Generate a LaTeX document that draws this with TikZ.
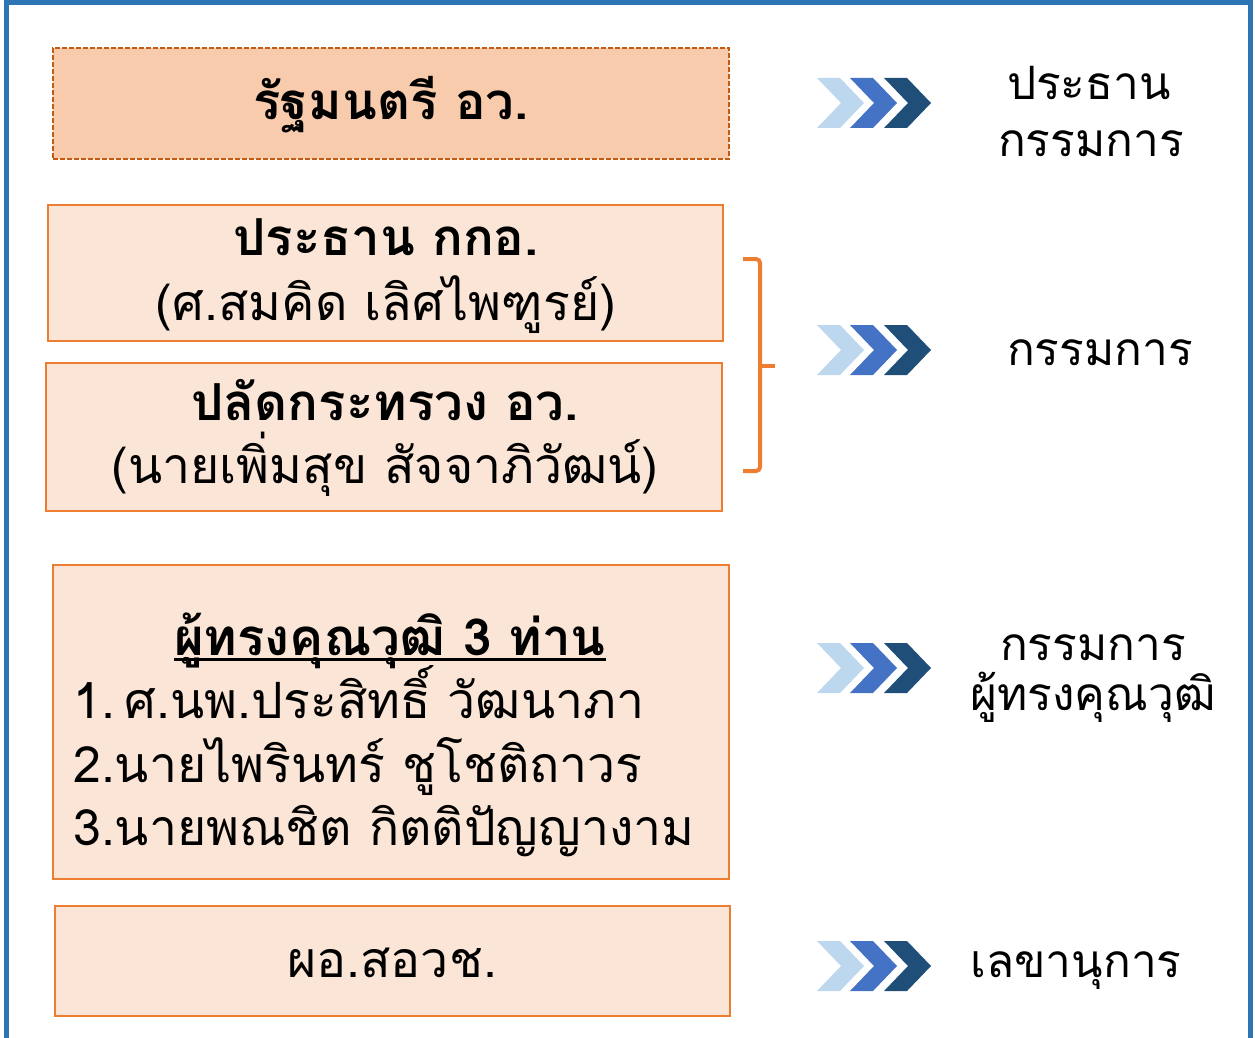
\documentclass[tikz,border=0pt]{standalone}
\usepackage{fontspec}
\setmainfont[Script=Thai]{Loma}
\definecolor{outerblue}{HTML}{2E75B6}
\definecolor{topfill}{HTML}{F8CBAD}
\definecolor{topline}{HTML}{C55A11}
\definecolor{boxfill}{HTML}{FBE5D6}
\definecolor{boxline}{HTML}{ED7D31}
\definecolor{chevA}{HTML}{BDD7EE}
\definecolor{chevB}{HTML}{4472C4}
\definecolor{chevC}{HTML}{1F4E79}
\newcommand\thul[1]{\setbox0=\hbox{#1}\rlap{\rule[-6pt]{\wd0}{3pt}}\box0}
\begin{document}
\begin{tikzpicture}[x=1pt,y=-1pt,
  topbox/.style={draw=topline,fill=topfill,line width=1.8pt,dash pattern=on 5pt off 2pt,rectangle,inner sep=0pt},
  orgbox/.style={draw=boxline,fill=boxfill,line width=2.5pt,rectangle,inner sep=0pt},
  boxtext/.style={anchor=base,inner sep=0pt,font=\fontsize{50}{60}\selectfont},
  boldtext/.style={anchor=base,inner sep=0pt,font=\fontsize{51}{60}\selectfont\bfseries},
  roletext/.style={anchor=base,inner sep=0pt,font=\fontsize{46}{55}\selectfont},
  chevs/.pic={
    \fill[chevA] (0,-25) -- (23,-25) -- (47,0) -- (23,25) -- (0,25) -- (24,0) -- cycle;
    \fill[chevB] (33,-25) -- (56,-25) -- (80,0) -- (56,25) -- (33,25) -- (57,0) -- cycle;
    \fill[chevC] (67,-25) -- (90,-25) -- (114,0) -- (90,25) -- (67,25) -- (91,0) -- cycle;
  }]
\useasboundingbox (0,0) rectangle (1255,1038);
% outer frame
\draw[outerblue,line width=5pt] (6.5,1045) -- (6.5,2.5) -- (1250.5,2.5) -- (1250.5,1045);
% boxes
\node[topbox,minimum width=676pt,minimum height=111pt] (b1) at (391,103.5) {};
\node[orgbox,minimum width=675pt,minimum height=136pt] (b2) at (385.5,273) {};
\node[orgbox,minimum width=676pt,minimum height=148pt] (b3) at (384,437) {};
\node[orgbox,minimum width=676pt,minimum height=314pt] (b4) at (391,722) {};
\node[orgbox,minimum width=675pt,minimum height=110pt] (b5) at (392.5,961) {};
% box texts
\node[boldtext] (t1) at (391,120) {รัฐมนตรี อว.};
\node[boldtext] (t2a) at (386,255) {ประธาน กกอ.};
\node[boxtext] (t2b) at (386,320) {(ศ.สมคิด เลิศไพฑูรย์)};
\node[boldtext] (t3a) at (385,420) {ปลัดกระทรวง อว.};
\node[boxtext] (t3b) at (385,483) {(นายเพิ่มสุข สัจจาภิวัฒน์)};
\node[boldtext] (t4h) at (390,655) {\thul{ผู้ทรงคุณวุฒิ 3 ท่าน}};
\node[boxtext,anchor=base west] (t4a) at (73,718) {1.\hspace{10pt}ศ.นพ.ประสิทธิ์ วัฒนาภา};
\node[boxtext,anchor=base west] (t4b) at (73,782) {2.นายไพรินทร์ ชูโชติถาวร};
\node[boxtext,anchor=base west] (t4c) at (73,845) {3.นายพณชิต กิตติปัญญางาม};
\node[boxtext] (t5) at (392,977) {ผอ.สอวช.};
% bracket
\draw[boxline,line width=4pt,rounded corners=4pt] (743,259) -- (760,259) -- (760,471) -- (743,471);
\draw[boxline,line width=4pt] (760,366) -- (775,366);
% chevrons
\pic at (817,103) {chevs};
\pic at (817,350) {chevs};
\pic at (817,668) {chevs};
\pic at (817,966) {chevs};
% role texts
\node[roletext] (r1a) at (1089,100) {ประธาน};
\node[roletext] (r1b) at (1091,157) {กรรมการ};
\node[roletext] (r2) at (1100,365) {กรรมการ};
\node[roletext] (r3a) at (1093,660) {กรรมการ};
\node[roletext] (r3b) at (1093,710) {ผู้ทรงคุณวุฒิ};
\node[roletext] (r4) at (1076,977) {เลขานุการ};
\end{tikzpicture}
\end{document}
